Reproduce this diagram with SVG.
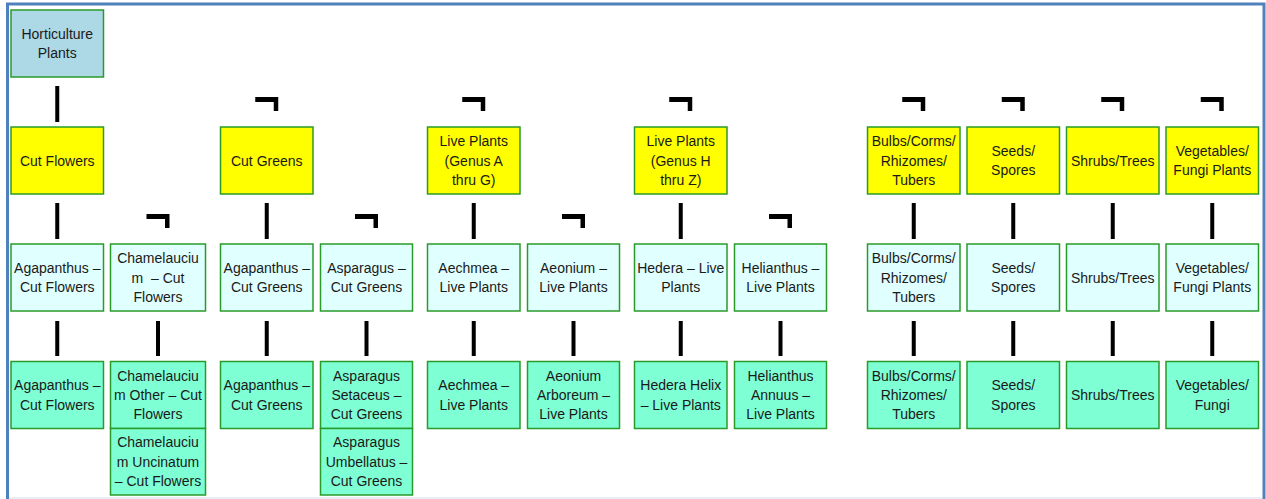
<svg xmlns="http://www.w3.org/2000/svg" width="1266" height="499" viewBox="0 0 1266 499">
<style>
.box{stroke:#2A9A2A;stroke-width:1.5}
.root{fill:#ADD8E6}
.l1{fill:#FFFF00}
.l2{fill:#E0FFFF}
.l3{fill:#7FFFD4}
text{font-family:"Liberation Sans",Arial,sans-serif;font-size:14px;fill:#1A1A1A;text-anchor:middle}
.bar{stroke:#000;stroke-width:4;fill:none}
.hook{fill:#000}
</style>
<rect x="0" y="0" width="1266" height="499" fill="#FFFFFF"/>
<path d="M7.5,499 V4 H1264 V499" fill="none" stroke="#4F81BD" stroke-width="3"/>
<line x1="9" y1="498" x2="1262" y2="498" stroke="#E2EAF2" stroke-width="1.5"/>

<g id="connectors">
<path class="bar" d="M57.25,86 V122"/>
<path class="hook" d="M255.25,97 H278.25 V111 H273.75 V102 H255.25 Z"/>
<path class="hook" d="M462.25,97 H485.25 V111 H480.75 V102 H462.25 Z"/>
<path class="hook" d="M669.25,97 H692.25 V111 H687.75 V102 H669.25 Z"/>
<path class="hook" d="M902.25,97 H925.25 V111 H920.75 V102 H902.25 Z"/>
<path class="hook" d="M1001.75,97 H1024.75 V111 H1020.25 V102 H1001.75 Z"/>
<path class="hook" d="M1101.25,97 H1124.25 V111 H1119.75 V102 H1101.25 Z"/>
<path class="hook" d="M1200.75,97 H1223.75 V111 H1219.25 V102 H1200.75 Z"/>
<path class="bar" d="M57.25,203 V239 M266.75,203 V239 M473.75,203 V239 M680.75,203 V239 M913.75,203 V239 M1013.25,203 V239 M1112.75,203 V239 M1212.25,203 V239"/>
<path class="hook" d="M146.5,214 H169.5 V228 H165 V219 H146.5 Z"/>
<path class="hook" d="M355,214 H378 V228 H373.5 V219 H355 Z"/>
<path class="hook" d="M562,214 H585 V228 H580.5 V219 H562 Z"/>
<path class="hook" d="M769,214 H792 V228 H787.5 V219 H769 Z"/>
<path class="bar" d="M57.25,321 V356 M158,321 V356 M266.75,321 V356 M366.5,321 V356 M473.75,321 V356 M573.5,321 V356 M680.75,321 V356 M780.5,321 V356 M913.75,321 V356 M1013.25,321 V356 M1112.75,321 V356 M1212.25,321 V356"/>
</g>

<g id="n-root"><rect class="box root" x="11" y="10" width="92.5" height="67"/><text x="57.25" y="39">Horticulture</text><text x="57.25" y="58.3">Plants</text></g>

<g id="n-cut-flowers"><rect class="box l1" x="11" y="127" width="92.5" height="67"/><text x="57.25" y="165.5">Cut Flowers</text></g>
<g id="n-cut-greens"><rect class="box l1" x="220.5" y="127" width="92.5" height="67"/><text x="266.75" y="165.5">Cut Greens</text></g>
<g id="n-live-ag"><rect class="box l1" x="427.5" y="127" width="92.5" height="67"/><text x="473.75" y="146.2">Live Plants</text><text x="473.75" y="165.5">(Genus A</text><text x="473.75" y="184.8">thru G)</text></g>
<g id="n-live-hz"><rect class="box l1" x="634.5" y="127" width="92.5" height="67"/><text x="680.75" y="146.2">Live Plants</text><text x="680.75" y="165.5">(Genus H</text><text x="680.75" y="184.8">thru Z)</text></g>
<g id="n-bulbs"><rect class="box l1" x="867.5" y="127" width="92.5" height="67"/><text x="913.75" y="146.2">Bulbs/Corms/</text><text x="913.75" y="165.5">Rhizomes/</text><text x="913.75" y="184.8">Tubers</text></g>
<g id="n-seeds"><rect class="box l1" x="967" y="127" width="92.5" height="67"/><text x="1013.25" y="155.85">Seeds/</text><text x="1013.25" y="175.15">Spores</text></g>
<g id="n-shrubs"><rect class="box l1" x="1066.5" y="127" width="92.5" height="67"/><text x="1112.75" y="165.5">Shrubs/Trees</text></g>
<g id="n-veg"><rect class="box l1" x="1166" y="127" width="92.5" height="67"/><text x="1212.25" y="155.85">Vegetables/</text><text x="1212.25" y="175.15">Fungi Plants</text></g>

<g id="n-agap-cf"><rect class="box l2" x="11" y="244" width="92.5" height="67"/><text x="57.25" y="272.85">Agapanthus –</text><text x="57.25" y="292.15">Cut Flowers</text></g>
<g id="n-chamel"><rect class="box l2" x="110.5" y="244" width="95" height="67"/><text x="158" y="263.2">Chamelauciu</text><text x="158" y="282.5" xml:space="preserve">m  – Cut</text><text x="158" y="301.8">Flowers</text></g>
<g id="n-agap-cg"><rect class="box l2" x="220.5" y="244" width="92.5" height="67"/><text x="266.75" y="272.85">Agapanthus –</text><text x="266.75" y="292.15">Cut Greens</text></g>
<g id="n-aspar"><rect class="box l2" x="320.5" y="244" width="92" height="67"/><text x="366.5" y="272.85">Asparagus –</text><text x="366.5" y="292.15">Cut Greens</text></g>
<g id="n-aechmea"><rect class="box l2" x="427.5" y="244" width="92.5" height="67"/><text x="473.75" y="272.85">Aechmea –</text><text x="473.75" y="292.15">Live Plants</text></g>
<g id="n-aeonium"><rect class="box l2" x="527.5" y="244" width="92" height="67"/><text x="573.5" y="272.85">Aeonium –</text><text x="573.5" y="292.15">Live Plants</text></g>
<g id="n-hedera"><rect class="box l2" x="634.5" y="244" width="92.5" height="67"/><text x="680.75" y="272.85">Hedera – Live</text><text x="680.75" y="292.15">Plants</text></g>
<g id="n-helian"><rect class="box l2" x="734.5" y="244" width="92" height="67"/><text x="780.5" y="272.85">Helianthus –</text><text x="780.5" y="292.15">Live Plants</text></g>
<g id="n-bulbs2"><rect class="box l2" x="867.5" y="244" width="92.5" height="67"/><text x="913.75" y="263.2">Bulbs/Corms/</text><text x="913.75" y="282.5">Rhizomes/</text><text x="913.75" y="301.8">Tubers</text></g>
<g id="n-seeds2"><rect class="box l2" x="967" y="244" width="92.5" height="67"/><text x="1013.25" y="272.85">Seeds/</text><text x="1013.25" y="292.15">Spores</text></g>
<g id="n-shrubs2"><rect class="box l2" x="1066.5" y="244" width="92.5" height="67"/><text x="1112.75" y="282.5">Shrubs/Trees</text></g>
<g id="n-veg2"><rect class="box l2" x="1166" y="244" width="92.5" height="67"/><text x="1212.25" y="272.85">Vegetables/</text><text x="1212.25" y="292.15">Fungi Plants</text></g>

<g id="n-agap-cf3"><rect class="box l3" x="11" y="361.5" width="92.5" height="67"/><text x="57.25" y="390.35">Agapanthus –</text><text x="57.25" y="409.65">Cut Flowers</text></g>
<g id="n-chamel-other"><rect class="box l3" x="110.5" y="361.5" width="95" height="67"/><text x="158" y="380.7">Chamelauciu</text><text x="158" y="400">m Other – Cut</text><text x="158" y="419.3">Flowers</text></g>
<g id="n-chamel-unc"><rect class="box l3" x="110.5" y="428.5" width="95" height="66.5"/><text x="158" y="447.45">Chamelauciu</text><text x="158" y="466.75">m Uncinatum</text><text x="158" y="486.05">– Cut Flowers</text></g>
<g id="n-agap-cg3"><rect class="box l3" x="220.5" y="361.5" width="92.5" height="67"/><text x="266.75" y="390.35">Agapanthus –</text><text x="266.75" y="409.65">Cut Greens</text></g>
<g id="n-aspar-set"><rect class="box l3" x="320.5" y="361.5" width="92" height="67"/><text x="366.5" y="380.7">Asparagus</text><text x="366.5" y="400">Setaceus –</text><text x="366.5" y="419.3">Cut Greens</text></g>
<g id="n-aspar-umb"><rect class="box l3" x="320.5" y="428.5" width="92" height="66.5"/><text x="366.5" y="447.45">Asparagus</text><text x="366.5" y="466.75">Umbellatus –</text><text x="366.5" y="486.05">Cut Greens</text></g>
<g id="n-aechmea3"><rect class="box l3" x="427.5" y="361.5" width="92.5" height="67"/><text x="473.75" y="390.35">Aechmea –</text><text x="473.75" y="409.65">Live Plants</text></g>
<g id="n-aeonium3"><rect class="box l3" x="527.5" y="361.5" width="92" height="67"/><text x="573.5" y="380.7">Aeonium</text><text x="573.5" y="400">Arboreum –</text><text x="573.5" y="419.3">Live Plants</text></g>
<g id="n-hedera3"><rect class="box l3" x="634.5" y="361.5" width="92.5" height="67"/><text x="680.75" y="390.35">Hedera Helix</text><text x="680.75" y="409.65">– Live Plants</text></g>
<g id="n-helian3"><rect class="box l3" x="734.5" y="361.5" width="92" height="67"/><text x="780.5" y="380.7">Helianthus</text><text x="780.5" y="400">Annuus –</text><text x="780.5" y="419.3">Live Plants</text></g>
<g id="n-bulbs3"><rect class="box l3" x="867.5" y="361.5" width="92.5" height="67"/><text x="913.75" y="380.7">Bulbs/Corms/</text><text x="913.75" y="400">Rhizomes/</text><text x="913.75" y="419.3">Tubers</text></g>
<g id="n-seeds3"><rect class="box l3" x="967" y="361.5" width="92.5" height="67"/><text x="1013.25" y="390.35">Seeds/</text><text x="1013.25" y="409.65">Spores</text></g>
<g id="n-shrubs3"><rect class="box l3" x="1066.5" y="361.5" width="92.5" height="67"/><text x="1112.75" y="400">Shrubs/Trees</text></g>
<g id="n-veg3"><rect class="box l3" x="1166" y="361.5" width="92.5" height="67"/><text x="1212.25" y="390.35">Vegetables/</text><text x="1212.25" y="409.65">Fungi</text></g>
</svg>
